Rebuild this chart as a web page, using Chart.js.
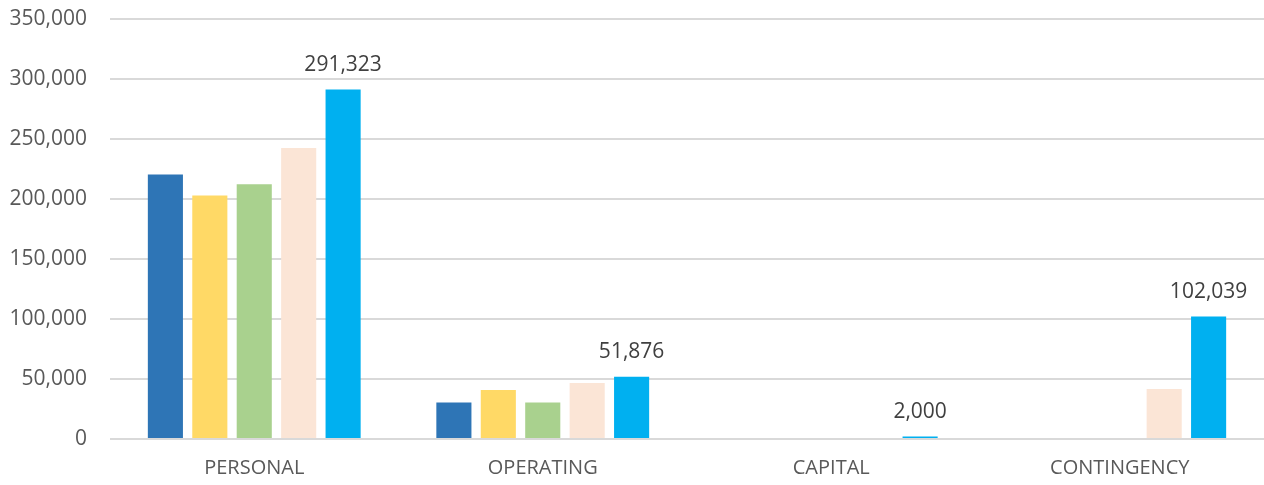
<!DOCTYPE html>
<html>
<head>
<meta charset="utf-8">
<script src="https://cdn.jsdelivr.net/npm/chart.js@4"></script>
<style>
  html, body { margin: 0; padding: 0; background: #fff; }
  #wrap { width: 1264px; height: 485px; }
</style>
</head>
<body>
<div id="wrap"><canvas id="budgetChart"></canvas></div>
<script>
const categories = ['PERSONAL', 'OPERATING', 'CAPITAL', 'CONTINGENCY'];
const series1 = [220500, 30500, 0, 0];
const series2 = [203000, 40800, 0, 0];
const series3 = [212200, 30500, 0, 0];
const series4 = [242500, 46700, 0, 41700];
const series5 = [291323, 51876, 2000, 102039];
const seriesNames = ['Series 1', 'Series 2', 'Series 3', 'Series 4', 'Series 5'];
const seriesColors = ['#2E75B6', '#FFD966', '#A9D18E', '#FBE5D6', '#00B0F0'];
const yTicks = [0, 50000, 100000, 150000, 200000, 250000, 300000, 350000];

const fmt = v => v.toLocaleString('en-US');
const FONT = '"Open Sans", "Liberation Sans", sans-serif';

// value labels only on the last series, like the original
const lastLabels = {
    id: 'lastLabels',
    afterDatasetsDraw(chart) {
        const ctx = chart.ctx;
        const idx = chart.data.datasets.length - 1;
        const meta = chart.getDatasetMeta(idx);
        ctx.save();
        ctx.font = '21px ' + FONT;
        ctx.fillStyle = '#404040';
        ctx.textAlign = 'center';
        ctx.textBaseline = 'bottom';
        meta.data.forEach((bar, i) => {
            const v = chart.data.datasets[idx].data[i];
            if (!v) return;
            ctx.fillText(fmt(v), bar.x, bar.y - 14);
        });
        ctx.restore();
    }
};

const datasets = [series1, series2, series3, series4, series5].map((d, i) => ({
    label: seriesNames[i],
    data: d,
    backgroundColor: seriesColors[i],
    categoryPercentage: 0.77,
    barPercentage: 0.79
}));

new Chart(document.getElementById('budgetChart'), {
    type: 'bar',
    data: { labels: categories, datasets: datasets },
    options: {
        responsive: true,
        maintainAspectRatio: false,
        animation: false,
        layout: { padding: { top: 19, right: 0, left: 0, bottom: 0 } },
        plugins: { legend: { display: false }, tooltip: { enabled: false } },
        scales: {
            x: {
                grid: { display: false, drawTicks: false },
                border: { display: false },
                ticks: { color: '#595959', font: { family: FONT, size: 20 }, padding: 17 },
                afterFit: axis => { axis.height = 46; }
            },
            y: {
                min: 0,
                max: yTicks[yTicks.length - 1],
                afterBuildTicks: axis => { axis.ticks = yTicks.map(v => ({ value: v })); },
                afterFit: axis => { axis.width = 110; axis.paddingTop = 0; axis.paddingBottom = 0; },
                grid: { color: '#D9D9D9', lineWidth: 2, drawTicks: false },
                border: { display: false },
                ticks: { color: '#595959', font: { family: FONT, size: 21 }, padding: 23, callback: v => fmt(v) }
            }
        }
    },
    plugins: [lastLabels]
});
</script>
</body>
</html>
